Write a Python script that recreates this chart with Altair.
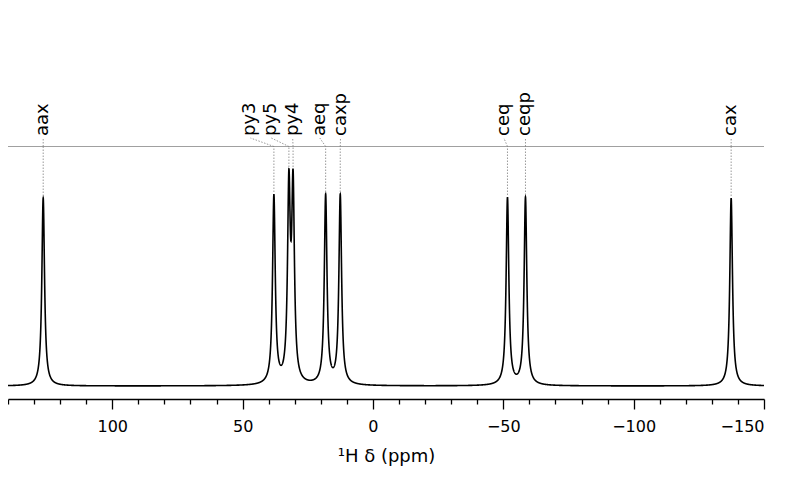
import numpy as np
import pandas as pd
import altair as alt

# ---- data ----
labels = ["aax", "py3", "py5", "py4", "aeq", "caxp", "ceq", "ceqp", "cax"]
peak_ppm = [126.5, 38.0, 32.25, 30.65, 18.15, 12.55, -51.6, -58.5, -137.4]
peak_top = [188, 192, 217, 217, 192, 192, 189, 189, 188]      # height of the drawn curve at each peak
label_ppm = [126.5, 47.0, 39.0, 30.8, 20.4, 12.45, -50.2, -58.5, -137.4]
hwhm = 0.62                                                  # Lorentzian half width (ppm)
guide_level = 239.5                                          # grey reference line
label_base = 250                                             # bottom of the rotated labels

# ---- spectrum as a sum of Lorentzians through the read peak parameters ----
p = np.array(peak_ppm)
M = 1.0 / (1.0 + ((p[:, None] - p[None, :]) / hwhm) ** 2)
amp = np.linalg.solve(M, np.array(peak_top, dtype=float))
grid = np.unique(np.concatenate([np.arange(-150.0, 140.0001, 0.04), p]))
inten = (amp[None, :] / (1.0 + ((grid[:, None] - p[None, :]) / hwhm) ** 2)).sum(axis=1)
spec = pd.DataFrame({"ppm": grid, "I": inten})

ann = pd.DataFrame({
    "label": labels,
    "ppm": peak_ppm,
    "label_ppm": label_ppm,
    "top": [t + 2 for t in peak_top],
    "guide": guide_level,
    "conn": label_base - 2,
    "lab": label_base,
})

xscale = alt.Scale(domain=[140, -150], nice=False, zero=False)
yscale = alt.Scale(domain=[-13, 378], nice=False, zero=False)
FONT = "DejaVu Sans"
XTITLE = "¹H δ (ppm)"

xaxis = alt.Axis(
    values=list(range(-150, 141, 10)),
    format="d",
    labelExpr="datum.value % 50 === 0 ? datum.label : ''",
    tickSize={"condition": {"test": "datum.value % 50 === 0", "value": 10}, "value": 5},
    tickWidth=1.3, tickColor="black",
    domainColor="black", domainWidth=1.3,
    labelFont=FONT, labelFontSize=16, labelColor="black", labelPadding=9,
    titleFont=FONT, titleFontSize=18, titleFontWeight="normal", titleColor="black",
    titlePadding=13, grid=False, labelOverlap=False,
)

X = lambda f: alt.X(f, scale=xscale, axis=xaxis, title=XTITLE)
Y = lambda f: alt.Y(f, scale=yscale, axis=None)

line = alt.Chart(spec).mark_line(color="black", strokeWidth=1.6).encode(
    x=X("ppm:Q"), y=Y("I:Q"),
)

guide = alt.Chart(ann).mark_rule(color="#a0a0a0", strokeWidth=1.1).encode(
    y=Y("mean(guide):Q"),
)

vert = alt.Chart(ann).mark_rule(color="#808080", strokeWidth=0.8, strokeDash=[1.5, 1.5]).encode(
    x=X("ppm:Q"), y=Y("top:Q"), y2="guide:Q",
)

diag = alt.Chart(ann).mark_rule(color="#808080", strokeWidth=0.8, strokeDash=[1.5, 1.5]).encode(
    x=X("ppm:Q"), x2="label_ppm:Q", y=Y("guide:Q"), y2="conn:Q",
)

text = alt.Chart(ann).mark_text(
    angle=270, align="left", baseline="middle", font=FONT, fontSize=18, color="black"
).encode(
    x=X("label_ppm:Q"), y=Y("lab:Q"), text="label:N",
)

chart = alt.layer(guide, line, vert, diag, text).properties(
    width=756, height=391,
    background="white",
    autosize=alt.AutoSizeParams(type="none"),
    padding={"left": 0, "top": 0, "right": 24, "bottom": 72},
).configure_view(strokeWidth=0, stroke="transparent")

chart.save("out.html", embed_options={"renderer": "svg", "actions": False})
